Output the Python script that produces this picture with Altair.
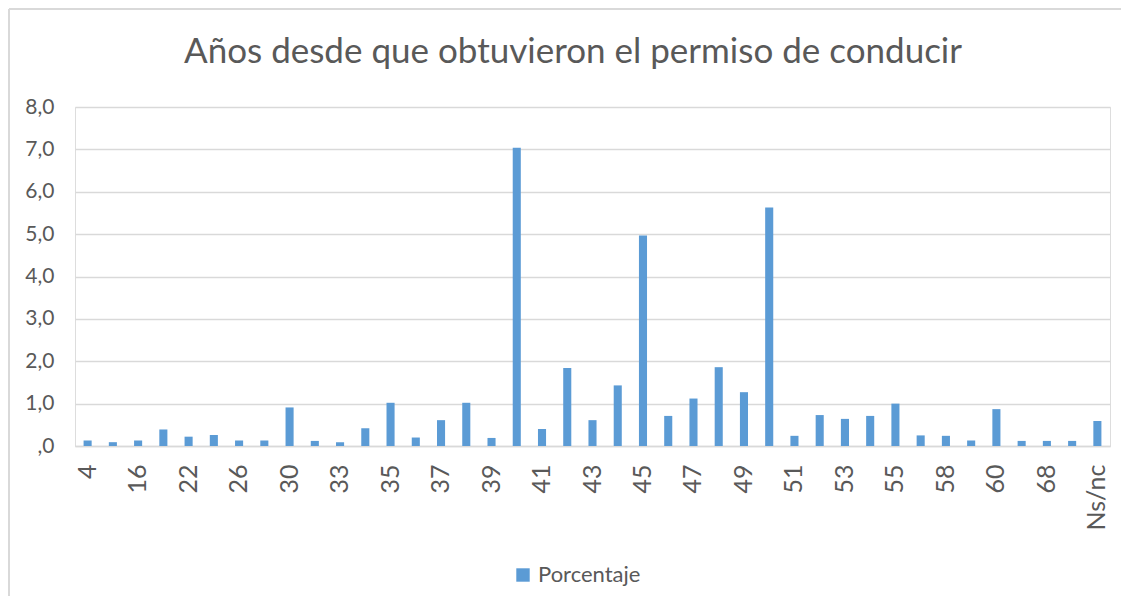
import altair as alt
import pandas as pd

categories = ["4", "12", "16", "20", "22", "24", "26", "28", "30", "31", "33", "34",
              "35", "36", "37", "38", "39", "40", "41", "42", "43", "44", "45", "46",
              "47", "48", "49", "50", "51", "52", "53", "54", "55", "56", "58", "59",
              "60", "65", "68", "70", "Ns/nc"]
values = [0.13, 0.09, 0.13, 0.39, 0.22, 0.26, 0.13, 0.13, 0.91, 0.12, 0.09, 0.42,
          1.02, 0.20, 0.61, 1.02, 0.19, 7.04, 0.40, 1.84, 0.61, 1.43, 4.97, 0.71,
          1.12, 1.86, 1.27, 5.63, 0.24, 0.73, 0.64, 0.71, 1.00, 0.25, 0.24, 0.13,
          0.87, 0.12, 0.12, 0.12, 0.59]
series_name = "Porcentaje"
title_text = "Años desde que obtuvieron el permiso de conducir"
shown_labels = categories[::2]

df = pd.DataFrame({"cat": categories, "val": values, "serie": [series_name] * len(categories)})

FONT = "Lato"
GREY = "#595959"
GRID = "#d9d9d9"

bars = alt.Chart(df).mark_bar(color="#5B9BD5").encode(
    x=alt.X("cat:N", sort=categories,
            scale=alt.Scale(paddingInner=0.68, paddingOuter=0.34),
            axis=alt.Axis(title=None, values=shown_labels, labelAngle=270,
                          labelFontSize=25, labelColor=GREY, labelFont=FONT,
                          labelPadding=18, ticks=False, domainColor=GRID,
                          domainWidth=1.5, grid=False, labelOverlap=False)),
    y=alt.Y("val:Q", scale=alt.Scale(domain=[0, 8], nice=False),
            axis=alt.Axis(title=None, values=[0, 1, 2, 3, 4, 5, 6, 7, 8],
                          labelExpr="datum.value == 0 ? ',0' : replace(format(datum.value, '.1f'), '.', ',')",
                          labelFontSize=21, labelColor=GREY, labelFont=FONT,
                          labelPadding=21, ticks=False, domain=False,
                          gridColor=GRID, gridWidth=1.5)),
    color=alt.Color("serie:N", scale=alt.Scale(range=["#5B9BD5"]),
                    legend=alt.Legend(title=None, orient="none", legendX=437, legendY=457,
                                      symbolType="square", symbolSize=180,
                                      symbolStrokeWidth=0, labelFontSize=22,
                                      labelFont=FONT, labelColor=GREY, labelOffset=4)),
)

one = pd.DataFrame({"t": [title_text]})
title_mark = alt.Chart(one).mark_text(
    font=FONT, fontSize=35, color=GREY, align="center", baseline="alphabetic"
).encode(text="t:N", x=alt.value(498), y=alt.value(-44))

top_border = alt.Chart(one).mark_rule(color=GRID, strokeWidth=2).encode(
    x=alt.value(-66), x2=alt.value(1046), y=alt.value(-98))
left_border = alt.Chart(one).mark_rule(color=GRID, strokeWidth=2).encode(
    x=alt.value(-66), y=alt.value(-98), y2=alt.value(500))

chart = alt.layer(bars, title_mark, top_border, left_border).properties(
    width=1035, height=339,
    autosize=alt.AutoSizeParams(type="none"),
    padding={"left": 67, "top": 99, "right": 11, "bottom": 150},
).configure_view(stroke=None).configure(background="white")

chart.save("out.html", embed_options={"renderer": "svg", "actions": False})
